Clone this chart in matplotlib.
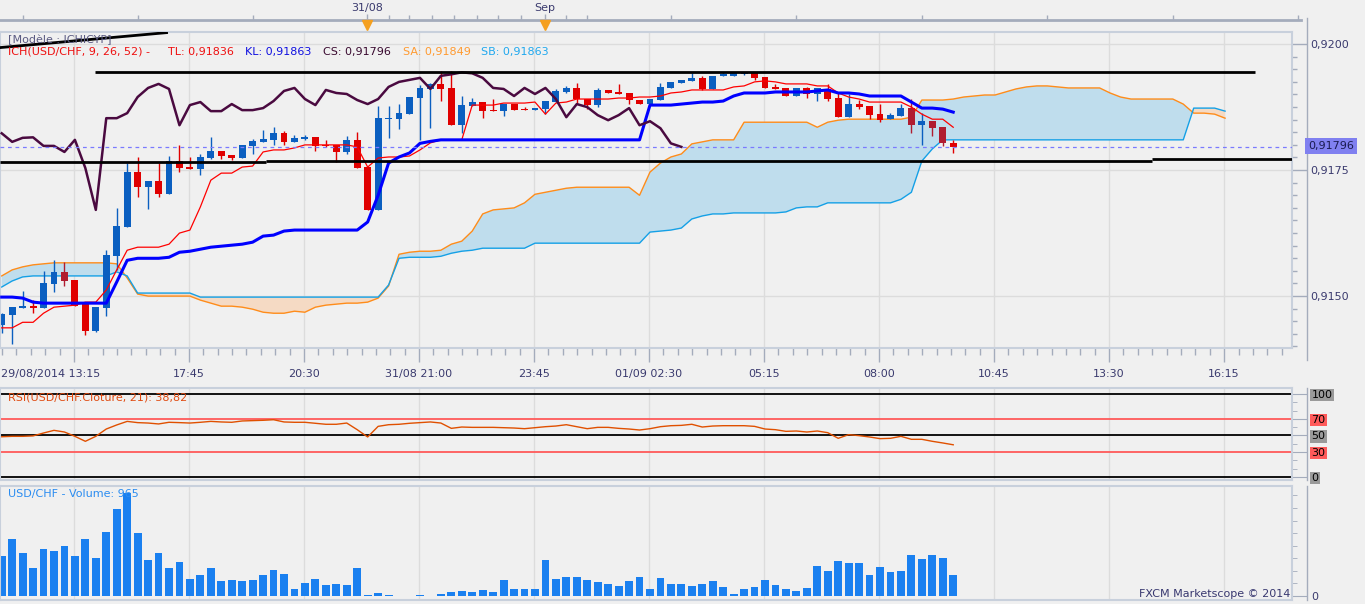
import numpy as np
import matplotlib
matplotlib.use('Agg')
import matplotlib.pyplot as plt
from matplotlib.ticker import MultipleLocator, FixedLocator, NullFormatter
from matplotlib.lines import Line2D

# USD/CHF 15 min, prix en 1e-5
opens = [91442, 91462, 91476, 91480, 91476, 91524, 91548, 91532, 91488, 91431,
         91476, 91579, 91637, 91746, 91716, 91728, 91702, 91768, 91756, 91752,
         91774, 91788, 91780, 91774, 91798, 91806, 91810, 91823, 91806, 91812,
         91815, 91800, 91800, 91786, 91810, 91756, 91671, 91851, 91851, 91861,
         91893, 91911, 91921, 91913, 91839, 91877, 91885, 91869, 91867, 91881,
         91871, 91869, 91871, 91885, 91905, 91913, 91891, 91879, 91909, 91905,
         91903, 91889, 91881, 91889, 91913, 91923, 91927, 91933, 91911, 91937,
         91937, 91940, 91944, 91935, 91915, 91913, 91897, 91913, 91901, 91911,
         91893, 91855, 91881, 91877, 91861, 91851, 91857, 91873, 91839, 91847,
         91835, 91803]
highs = [91466, 91478, 91510, 91492, 91550, 91571, 91567, 91532, 91488, 91478,
         91591, 91675, 91764, 91776, 91728, 91764, 91778, 91800, 91776, 91782,
         91815, 91788, 91780, 91800, 91812, 91829, 91835, 91827, 91819, 91819,
         91815, 91810, 91800, 91817, 91825, 91756, 91877, 91877, 91881, 91895,
         91919, 91923, 91946, 91946, 91897, 91893, 91885, 91891, 91881, 91881,
         91875, 91873, 91887, 91911, 91917, 91923, 91891, 91913, 91909, 91921,
         91903, 91889, 91891, 91923, 91925, 91929, 91942, 91937, 91937, 91944,
         91944, 91944, 91944, 91935, 91921, 91913, 91913, 91915, 91913, 91921,
         91905, 91901, 91889, 91877, 91881, 91863, 91881, 91891, 91863, 91847,
         91835, 91810]
lows = [91427, 91405, 91476, 91466, 91476, 91508, 91520, 91480, 91423, 91429,
        91460, 91552, 91637, 91696, 91673, 91696, 91702, 91746, 91752, 91740,
        91772, 91772, 91770, 91774, 91782, 91806, 91800, 91800, 91806, 91810,
        91788, 91796, 91766, 91782, 91754, 91671, 91671, 91814, 91831, 91861,
        91810, 91833, 91887, 91839, 91823, 91877, 91853, 91867, 91857, 91869,
        91869, 91869, 91861, 91885, 91903, 91881, 91871, 91875, 91903, 91901,
        91881, 91881, 91881, 91889, 91913, 91923, 91927, 91909, 91911, 91937,
        91937, 91939, 91929, 91913, 91911, 91897, 91897, 91893, 91887, 91887,
        91855, 91855, 91871, 91851, 91845, 91851, 91857, 91823, 91800, 91817,
        91798, 91784]
closes = [91464, 91478, 91480, 91476, 91526, 91548, 91530, 91480, 91431, 91478,
          91581, 91639, 91746, 91716, 91728, 91702, 91768, 91754, 91752, 91776,
          91788, 91778, 91774, 91800, 91808, 91812, 91823, 91806, 91814, 91815,
          91798, 91798, 91786, 91810, 91754, 91671, 91853, 91853, 91863, 91895,
          91913, 91921, 91911, 91839, 91879, 91885, 91867, 91867, 91881, 91869,
          91869, 91873, 91887, 91907, 91913, 91891, 91879, 91909, 91903, 91901,
          91889, 91881, 91891, 91915, 91925, 91929, 91933, 91911, 91937, 91940,
          91944, 91942, 91933, 91913, 91911, 91897, 91913, 91901, 91913, 91891,
          91855, 91881, 91875, 91859, 91849, 91859, 91873, 91839, 91847, 91833,
          91803, 91796]
dark_red = [6, 87, 89, 90]  # bougies rouge fonce

tenkan = [91437, 91437, 91448, 91448, 91466, 91478, 91480, 91482, 91488, 91488,
          91512, 91552, 91591, 91597, 91597, 91597, 91603, 91625, 91631, 91677,
          91730, 91744, 91744, 91756, 91758, 91786, 91790, 91790, 91794, 91800,
          91800, 91800, 91800, 91800, 91796, 91756, 91774, 91776, 91776, 91778,
          91790, 91804, 91810, 91810, 91810, 91879, 91879, 91879, 91883, 91883,
          91883, 91885, 91861, 91883, 91885, 91891, 91891, 91891, 91891, 91893,
          91893, 91895, 91895, 91897, 91903, 91905, 91909, 91909, 91909, 91909,
          91915, 91917, 91925, 91927, 91925, 91921, 91921, 91921, 91917, 91917,
          91903, 91895, 91891, 91885, 91885, 91885, 91885, 91875, 91861, 91851,
          91851, 91835]
kijun = [91498, 91498, 91496, 91488, 91486, 91486, 91486, 91486, 91486, 91486,
         91486, 91528, 91571, 91575, 91575, 91575, 91577, 91587, 91589, 91593,
         91597, 91599, 91601, 91603, 91607, 91619, 91621, 91629, 91631, 91631,
         91631, 91631, 91631, 91631, 91631, 91647, 91700, 91764, 91776, 91784,
         91803, 91807, 91810, 91810, 91810, 91810, 91810, 91810, 91810, 91810,
         91810, 91810, 91810, 91810, 91810, 91810, 91810, 91810, 91810, 91810,
         91810, 91810, 91879, 91879, 91879, 91881, 91883, 91885, 91885, 91887,
         91897, 91903, 91903, 91903, 91905, 91905, 91905, 91905, 91907, 91909,
         91903, 91903, 91901, 91897, 91897, 91897, 91897, 91885, 91873, 91873,
         91871, 91865]
senkou_a = [91540, 91552, 91558, 91562, 91564, 91566, 91566, 91566, 91566, 91566,
            91566, 91564, 91536, 91504, 91500, 91500, 91500, 91500, 91500, 91492,
            91486, 91480, 91480, 91478, 91474, 91468, 91466, 91466, 91470, 91468,
            91478, 91482, 91484, 91486, 91486, 91488, 91496, 91520, 91583, 91587,
            91589, 91589, 91591, 91603, 91609, 91629, 91663, 91671, 91673, 91675,
            91685, 91702, 91706, 91710, 91714, 91716, 91716, 91716, 91716, 91716,
            91716, 91700, 91746, 91764, 91776, 91782, 91802, 91806, 91810, 91810,
            91810, 91845, 91845, 91845, 91845, 91845, 91845, 91845, 91835, 91845,
            91849, 91851, 91851, 91851, 91851, 91851, 91851, 91855, 91889, 91889,
            91889, 91891, 91895, 91897, 91899, 91899, 91905, 91911, 91915, 91917,
            91917, 91915, 91913, 91913, 91913, 91913, 91903, 91895, 91891, 91891,
            91891, 91891, 91891, 91881, 91863, 91863, 91861, 91853]
senkou_b = [91518, 91530, 91538, 91540, 91540, 91540, 91540, 91540, 91540, 91540,
            91540, 91548, 91540, 91506, 91506, 91506, 91506, 91506, 91506, 91498,
            91498, 91498, 91498, 91498, 91498, 91498, 91498, 91498, 91498, 91498,
            91498, 91498, 91498, 91498, 91498, 91498, 91498, 91522, 91575, 91577,
            91577, 91577, 91579, 91585, 91589, 91591, 91595, 91595, 91595, 91595,
            91595, 91605, 91605, 91605, 91605, 91605, 91605, 91605, 91605, 91605,
            91605, 91605, 91627, 91629, 91631, 91635, 91653, 91659, 91663, 91663,
            91665, 91665, 91665, 91665, 91665, 91667, 91675, 91677, 91677, 91685,
            91685, 91685, 91685, 91685, 91685, 91685, 91692, 91706, 91768, 91792,
            91810, 91810, 91810, 91810, 91810, 91810, 91810, 91810, 91810, 91810,
            91810, 91810, 91810, 91810, 91810, 91810, 91810, 91810, 91810, 91810,
            91810, 91810, 91810, 91810, 91873, 91873, 91873, 91867]

rsi = [48.5, 49, 49, 49.5, 53, 56.2, 54.2, 49, 43, 49,
       57.8, 62.7, 67, 65.5, 65, 63.9, 65.9, 65.5, 65, 65.9,
       67, 66.3, 65.9, 67.5, 67.9, 68.3, 69, 66.3, 65.9, 65.9,
       64.7, 63.5, 63.5, 65, 57, 48.2, 61, 63, 63.5, 64.7,
       65.5, 66.3, 65, 58.6, 60.2, 59.8, 59.8, 59.8, 59.4, 59,
       58.2, 59.4, 60.6, 61.4, 63, 60.6, 58.2, 59.8, 59.8, 58.6,
       57.8, 56.6, 58.2, 60.6, 61.8, 62.2, 63.5, 60.2, 61.4, 61.8,
       61.8, 61.8, 61, 57.8, 57, 55, 55.4, 54.2, 55.4, 53.4,
       46.6, 51, 49.8, 48.2, 46.2, 46.6, 49, 45.4, 45.4, 43,
       41, 38.82]
volume = [1836, 2616, 1974, 1285, 2157, 2066, 2310, 1836, 2616, 1744,
          2938, 3993, 4712, 2892, 1652, 1974, 1285, 1561, 780, 964,
          1285, 689, 734, 689, 734, 964, 1193, 1010, 321, 597,
          780, 520, 551, 505, 1285, 31, 138, 31, 15, 15,
          31, 15, 107, 168, 214, 168, 275, 199, 734, 321,
          321, 321, 1652, 780, 872, 872, 734, 643, 551, 474,
          689, 872, 321, 826, 551, 551, 474, 551, 689, 413,
          92, 321, 413, 734, 505, 321, 230, 367, 1377, 1148,
          1607, 1515, 1515, 964, 1331, 1102, 1148, 1882, 1698, 1882,
          1744, 965]

time_labels = ['29/08/2014 13:15', '17:45', '20:30', '31/08 21:00', '23:45', '01/09 02:30',
               '05:15', '08:00', '10:45', '13:30', '16:15']
time_ticks = [6.91 + 11 * k for k in range(len(time_labels))]
day_marks = [(34.9, '31/08'), (51.95, 'Sep')]
ruler_ticks = [2, 13, 24, 37, 39, 41.2, 43.3, 45.5, 47.5, 49.7, 54, 56, 64, 76, 88, 100, 112, 124]
# lignes tracees a la main (indice barre, prix)
trend_lines = [((8.9, 91944), (119.9, 91944)),
               ((-0.2, 91767), (25.3, 91767)),
               ((25.3, 91769), (110.0, 91769)),
               ((110.0, 91772), (123.4, 91772)),
               ((-0.2, 91993), (15.9, 92023))]
last_price = 91796

BG = '#f0f0f0'
GRID = '#dcdcdc'
FRAME = '#c8d0dc'
AXC = '#a4acbc'
TXT = '#3a3a6e'
W, H = 1365, 604
X0, X1 = -0.163, 123.4

plt.rcParams['font.family'] = ['DejaVu Sans']
plt.rcParams['font.size'] = 8

fig = plt.figure(figsize=(W / 100, H / 100), dpi=100, facecolor=BG)


def panel(x0, y0, x1, y1):
    ax = fig.add_axes([x0 / W, 1 - y1 / H, (x1 - x0) / W, (y1 - y0) / H])
    ax.set_facecolor(BG)
    for s in ax.spines.values():
        s.set_color(FRAME)
        s.set_linewidth(1.5)
    ax.set_xlim(X0, X1)
    return ax


def p(v):
    return np.asarray(v, dtype=float) / 1e5


idx = np.arange(len(closes))
idx2 = np.arange(len(senkou_a))
o, h, l, c = p(opens), p(highs), p(lows), p(closes)
sa, sb = p(senkou_a), p(senkou_b)

# ---------- panneau principal ----------
ax = panel(0, 32, 1292, 348)
ax.set_ylim(0.91397, 0.92024)
ax.xaxis.set_major_locator(FixedLocator(time_ticks))
ax.xaxis.set_minor_locator(FixedLocator(np.arange(time_ticks[0] - 1.375 * 5, X1, 1.375)))
ax.set_xticklabels([''] + time_labels[1:])
ax.yaxis.tick_right()
ax.set_yticks([0.9150, 0.9175, 0.9200])
ax.set_yticklabels(['0,9150', '0,9175', '0,9200'])
ax.yaxis.set_minor_locator(MultipleLocator(0.00025))
ax.tick_params(axis='x', which='major', length=10, color=AXC, labelcolor=TXT, pad=5, width=1)
ax.tick_params(axis='x', which='minor', length=5, color=AXC, width=1)
ax.tick_params(axis='y', which='major', length=11, color=AXC, labelcolor=TXT, pad=2, width=1)
ax.tick_params(axis='y', which='minor', length=3.5, color=AXC, width=1)
ax.grid(which='major', color=GRID, lw=1)
ax.set_axisbelow(True)

up = sa >= sb
ax.fill_between(idx2, sa, sb, where=up, interpolate=True, color='#bfdded', lw=0, zorder=1)
ax.fill_between(idx2, sa, sb, where=~up, interpolate=True, color='#f5dac4', lw=0, zorder=1)
ax.plot(idx2, sa, color='#ff8c1a', lw=1, zorder=1.5)
ax.plot(idx2, sb, color='#14a0e6', lw=1, zorder=1.5)

cols = []
for i in idx:
    if c[i] >= o[i]:
        cols.append('#0b5fc0')
    elif i in dark_red:
        cols.append('#b01c30')
    else:
        cols.append('#e00000')
body = np.where(np.abs(c - o) < 0.00002, 0.00002, c - o)
ax.vlines(idx, l, h, colors=cols, lw=1, zorder=2)
ax.bar(idx, body, bottom=o, width=0.66, color=cols, lw=0, zorder=2.1)

ax.plot(idx, p(tenkan), color='#ff0000', lw=0.9, zorder=3)
ax.plot(idx, p(kijun), color='#0000ff', lw=2.2, zorder=3)
ax.plot(idx[:len(closes) - 26], c[26:], color='#4a0a40', lw=1.8, zorder=3)

ax.axhline(last_price / 1e5, color='#7a7aff', lw=0.9, ls=(0, (3, 3)), zorder=3.2)
for (xa, ya), (xb, yb) in trend_lines:
    ax.plot([xa, xb], [ya / 1e5, yb / 1e5], color='black', lw=2, zorder=4, solid_capstyle='butt')

fig.text(1 / W, 1 - 374 / H, time_labels[0], color=TXT, ha='left', va='center')
fig.text(8 / W, 1 - 40 / H, '[Modèle : ICHICYP]', color='#5a5a82', va='center')
legend_parts = [('ICH(USD/CHF, 9, 26, 52) -', 8, '#ee1010'), ('TL: 0,91836', 168, '#ee1010'),
                ('KL: 0,91863', 245, '#1010e0'), ('CS: 0,91796', 323, '#3a0a30'),
                ('SA: 0,91849', 403, '#ff9a30'), ('SB: 0,91863', 481, '#20a8ee')]
for txt, xp, col in legend_parts:
    fig.text(xp / W, 1 - 52 / H, txt, color=col, va='center')
fig.text(1308 / W, 1 - 146 / H, '0,91796', color='#1a1a50', va='center', ha='left',
         bbox=dict(facecolor='#8080f0', edgecolor='none', pad=2))

# regle du haut
axt = panel(0, 0, 1292, 32)
axt.set_ylim(32, 0)
axt.axis('off')
axt.plot([X0, 124.3], [19.5, 19.5], color=AXC, lw=2, clip_on=False)
axt.vlines(ruler_ticks, 15, 19.5, color=AXC, lw=1, clip_on=False)
for xi, lab in day_marks:
    axt.vlines([xi], 14, 19.5, color=AXC, lw=1)
    axt.plot([xi], [25], marker='v', color='#f5a020', ms=7, mec='#f5a020')
    axt.text(xi, 8, lab, color=TXT, ha='center', va='center')

# ---------- RSI ----------
ax2 = panel(0, 388, 1292, 480)
ax2.set_ylim(-3.6, 107.2)
for lev, col in [(100, 'black'), (70, '#ff5a5a'), (50, 'black'), (30, '#ff5a5a'), (0, 'black')]:
    ax2.axhline(lev, color=col, lw=1.3, zorder=2)
ax2.plot(idx, rsi, color='#e05000', lw=1, zorder=3)
ax2.xaxis.set_major_locator(FixedLocator(time_ticks))
ax2.tick_params(axis='x', which='both', bottom=False, labelbottom=False)
ax2.grid(axis='x', color=GRID, lw=1)
ax2.yaxis.tick_right()
ax2.set_yticks([0, 30, 50, 70, 100])
ax2.yaxis.set_minor_locator(MultipleLocator(10))
ax2.tick_params(axis='y', which='major', length=11, color=AXC, labelcolor='black', pad=3)
ax2.tick_params(axis='y', which='minor', length=3.5, color=AXC)
for lab, col in zip(ax2.get_yticklabels(), ['#9a9a9a', '#ff5a5a', '#9a9a9a', '#ff5a5a', '#9a9a9a']):
    lab.set_bbox(dict(facecolor=col, edgecolor='none', pad=0.8))
fig.text(8 / W, 1 - 397 / H, 'RSI(USD/CHF.Cloture, 21): 38,82', color='#e04a10', va='center')

# ---------- Volume ----------
ax3 = panel(0, 486, 1292, 600)
ax3.set_ylim(-183, 5032)
ax3.bar(idx, volume, width=0.75, color='#1a80f0', lw=0, zorder=2)
ax3.xaxis.set_major_locator(FixedLocator(time_ticks))
ax3.tick_params(axis='x', which='both', bottom=False, labelbottom=False)
ax3.grid(axis='x', color=GRID, lw=1)
ax3.yaxis.tick_right()
ax3.set_yticks([0])
ax3.yaxis.set_minor_locator(MultipleLocator(575))
ax3.yaxis.set_minor_formatter(NullFormatter())
ax3.tick_params(axis='y', which='major', length=11, color=AXC, labelcolor=TXT, pad=3)
ax3.tick_params(axis='y', which='minor', length=3.5, color=AXC)
fig.text(8 / W, 1 - 494 / H, 'USD/CHF - Volume: 965', color='#2a8cf0', va='center')
fig.text(1290 / W, 1 - 594 / H, 'FXCM Marketscope © 2014', color='#383870', va='center', ha='right')

# axes verticales a droite
for ya, yb in [(18, 360), (388, 480), (486, 600)]:
    fig.add_artist(Line2D([1307 / W, 1307 / W], [1 - ya / H, 1 - yb / H],
                          transform=fig.transFigure, color=AXC, lw=1))

fig.savefig('out.png', dpi=100, facecolor=BG)
